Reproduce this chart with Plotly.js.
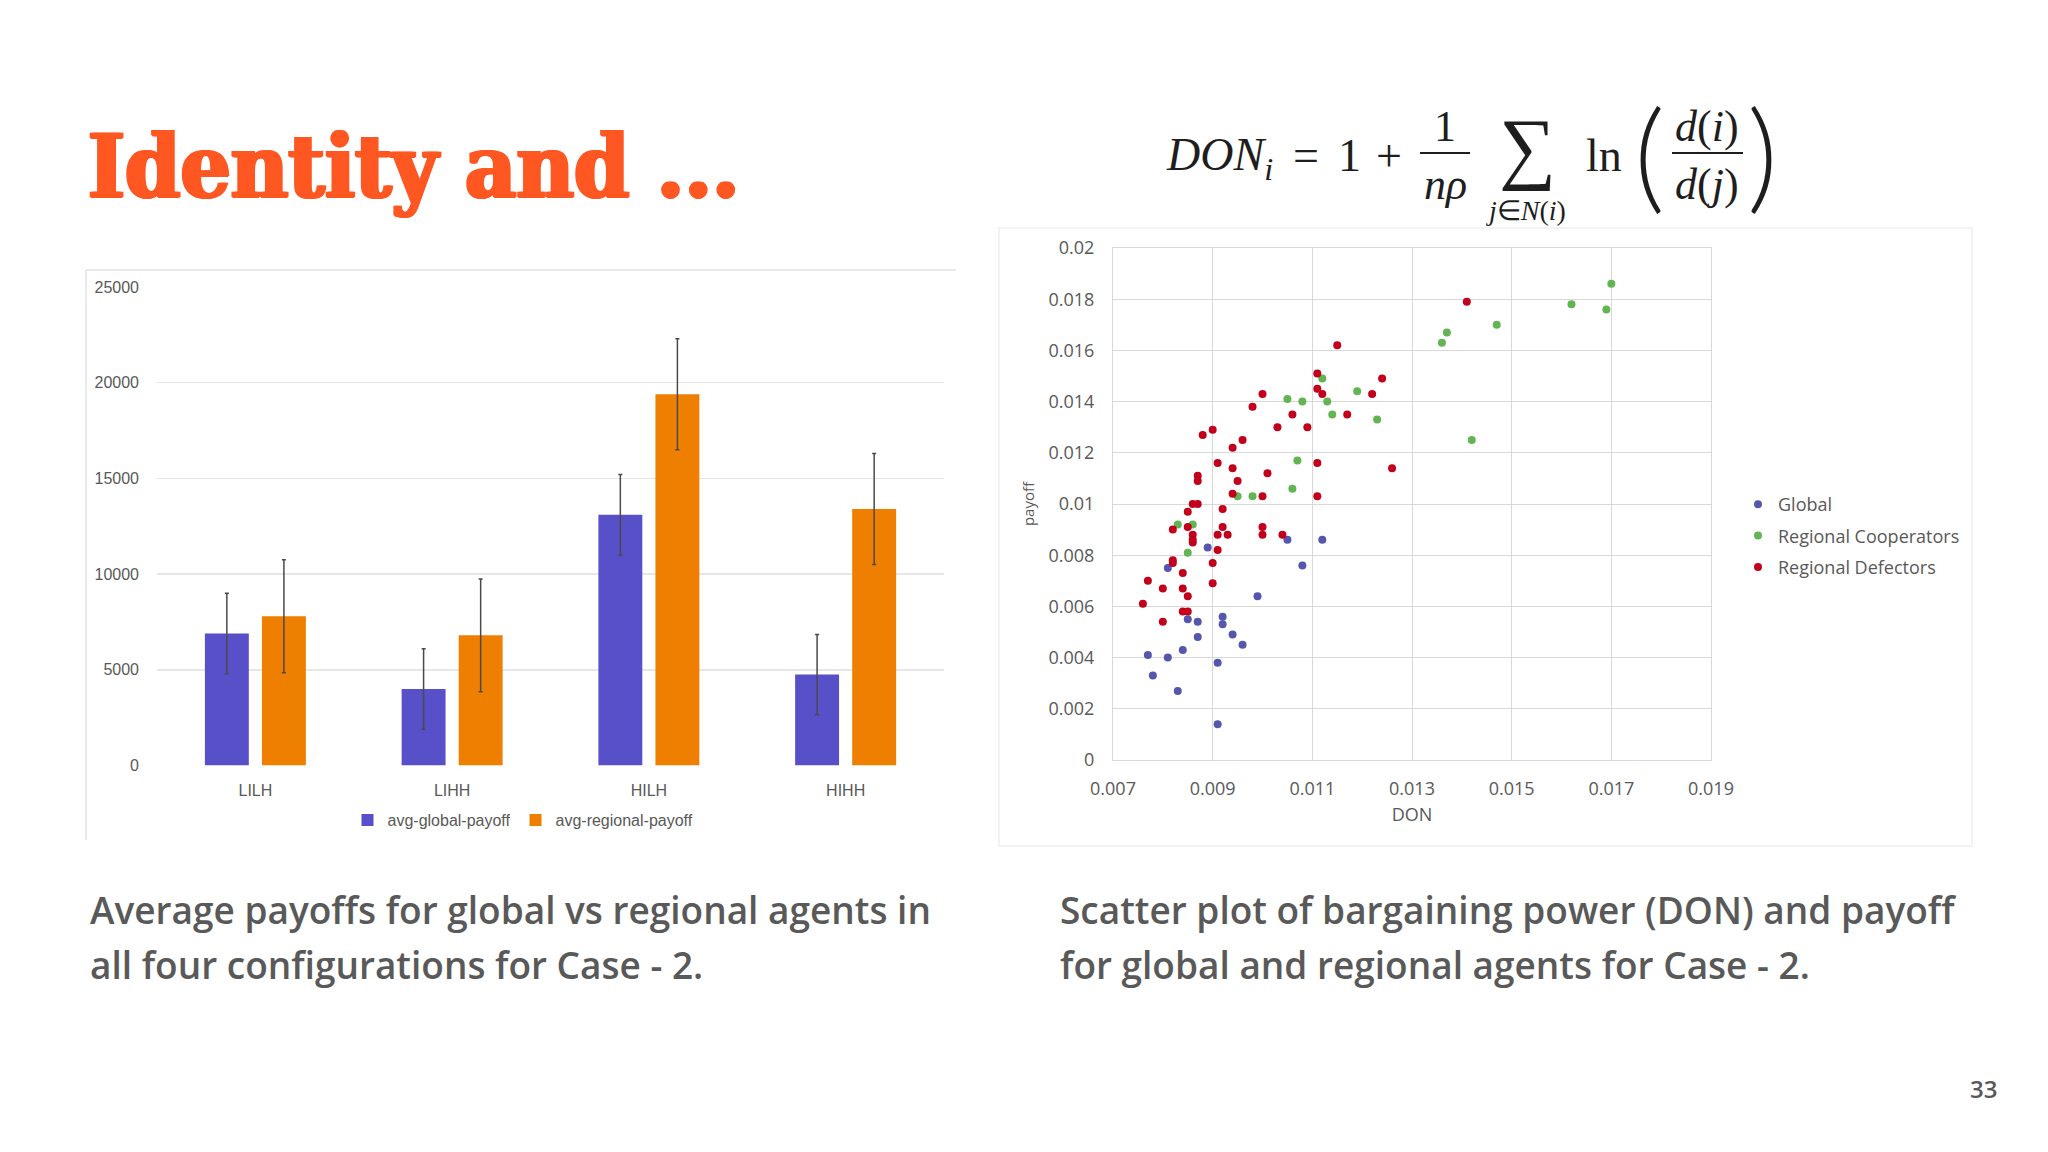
<!DOCTYPE html>
<html>
<head>
<meta charset="utf-8">
<script src="https://cdn.plot.ly/plotly-3.0.1.min.js"></script>
<style>html,body{margin:0;padding:0;background:#fff;}#chart{width:2048px;height:1152px;}</style>
</head>
<body>
<div id="chart"></div>
<script>
// ---------- Bar chart data ----------
const categories = ['LILH', 'LIHH', 'HILH', 'HIHH'];
const globalPayoff = [6900, 4000, 13100, 4750];
const globalErr = [2100, 2100, 2100, 2100];
const regionalPayoff = [7800, 6800, 19400, 13400];
const regionalErr = [2950, 2950, 2900, 2900];
const barNames = ['avg-global-payoff', 'avg-regional-payoff'];

// ---------- Scatter data (DON, payoff) ----------
const globalDon = [0.0089, 0.0105, 0.0112, 0.0108, 0.0081, 0.0099, 0.0085, 0.0087, 0.0092, 0.0092, 0.0094, 0.0087, 0.0096, 0.0084, 0.0077, 0.0081, 0.0091, 0.0078, 0.0083, 0.0091];
const globalPay = [0.0083, 0.0086, 0.0086, 0.0076, 0.0075, 0.0064, 0.0055, 0.0054, 0.0056, 0.0053, 0.0049, 0.0048, 0.0045, 0.0043, 0.0041, 0.0040, 0.0038, 0.0033, 0.0027, 0.0014];

const coopDon = [0.0170, 0.0162, 0.0169, 0.0147, 0.0137, 0.0136, 0.0142, 0.0112, 0.0119, 0.0105, 0.0108, 0.0113, 0.0114, 0.0123, 0.0107, 0.0106, 0.0095, 0.0098, 0.0083, 0.0086, 0.0085];
const coopPay = [0.0186, 0.0178, 0.0176, 0.0170, 0.0167, 0.0163, 0.0125, 0.0149, 0.0144, 0.0141, 0.0140, 0.0140, 0.0135, 0.0133, 0.0117, 0.0106, 0.0103, 0.0103, 0.0092, 0.0092, 0.0081];

const defDon = [0.0141, 0.0115, 0.0111, 0.0124, 0.0111, 0.0112, 0.0122, 0.0100, 0.0098, 0.0106, 0.0117, 0.0103, 0.0109, 0.0090, 0.0088, 0.0096, 0.0094, 0.0091, 0.0094, 0.0111, 0.0126, 0.0101, 0.0087, 0.0087, 0.0095, 0.0094, 0.0100, 0.0111, 0.0086, 0.0087, 0.0092, 0.0085, 0.0082, 0.0085, 0.0086, 0.0086, 0.0086, 0.0092, 0.0091, 0.0093, 0.0100, 0.0100, 0.0104, 0.0091, 0.0090, 0.0082, 0.0082, 0.0084, 0.0077, 0.0090, 0.0080, 0.0084, 0.0085, 0.0076, 0.0084, 0.0085, 0.0080];
const defPay = [0.0179, 0.0162, 0.0151, 0.0149, 0.0145, 0.0143, 0.0143, 0.0143, 0.0138, 0.0135, 0.0135, 0.0130, 0.0130, 0.0129, 0.0127, 0.0125, 0.0122, 0.0116, 0.0114, 0.0116, 0.0114, 0.0112, 0.0111, 0.0109, 0.0109, 0.0104, 0.0103, 0.0103, 0.0100, 0.0100, 0.0098, 0.0097, 0.0090, 0.0091, 0.0088, 0.0086, 0.0085, 0.0091, 0.0088, 0.0088, 0.0091, 0.0088, 0.0088, 0.0082, 0.0077, 0.0078, 0.0077, 0.0073, 0.0070, 0.0069, 0.0067, 0.0067, 0.0064, 0.0061, 0.0058, 0.0058, 0.0054];
const scatterNames = ['Global', 'Regional Cooperators', 'Regional Defectors'];

// ---------- Texts ----------
const slideTitle = 'Identity and ...';
const caption1 = ['Average payoffs for global vs regional agents in', 'all four configurations for Case - 2.'];
const caption2 = ['Scatter plot of bargaining power (DON) and payoff', 'for global and regional agents for Case - 2.'];
const pageNumber = '33';

// ---------- helpers (pixel -> paper) ----------
const W = 2048, H = 1152;
const X = p => p / W;
const Y = p => 1 - p / H;

const gray = '#595959';
const chartFont = 'Liberation Sans, Arial, sans-serif';
const scatFont = 'Open Sans, Noto Sans, sans-serif';
const serif = 'Liberation Serif, Times New Roman, serif';

const traces = [
  {
    type: 'bar', name: barNames[0], x: categories, y: globalPayoff,
    marker: {color: '#5850C8'},
    error_y: {type: 'data', array: globalErr, visible: true, color: '#4a4a4a', thickness: 1.5, width: 2},
    xaxis: 'x', yaxis: 'y', legend: 'legend', hoverinfo: 'skip'
  },
  {
    type: 'bar', name: barNames[1], x: categories, y: regionalPayoff,
    marker: {color: '#EE7F00'},
    error_y: {type: 'data', array: regionalErr, visible: true, color: '#4a4a4a', thickness: 1.5, width: 2},
    xaxis: 'x', yaxis: 'y', legend: 'legend', hoverinfo: 'skip'
  },
  {
    type: 'scatter', mode: 'markers', name: scatterNames[0], x: globalDon, y: globalPay,
    marker: {color: '#5556AD', size: 8}, xaxis: 'x2', yaxis: 'y2', legend: 'legend2', legendgroup: 'g1'
  },
  {
    type: 'scatter', mode: 'markers', name: scatterNames[1], x: coopDon, y: coopPay,
    marker: {color: '#62B552', size: 8}, xaxis: 'x2', yaxis: 'y2', legend: 'legend2', legendgroup: 'g2'
  },
  {
    type: 'scatter', mode: 'markers', name: scatterNames[2], x: defDon, y: defPay,
    marker: {color: '#C3001C', size: 8}, xaxis: 'x2', yaxis: 'y2', legend: 'legend2', legendgroup: 'g3'
  }
];

const ann = [];
function txt(t, x, y, opts) {
  ann.push(Object.assign({
    text: t, xref: 'paper', yref: 'paper', x: X(x), y: Y(y), showarrow: false,
    xanchor: 'left', yanchor: 'middle'
  }, opts));
}

// Title (heavy slab look: bold serif thickened with a same-colour shadow)
const tcol = '#FF5722';
txt(slideTitle, 86, 166, {font: {family: 'DejaVu Serif Condensed, DejaVu Serif, serif', size: 88, color: tcol, weight: 'bold',
  shadow: '2px 0 0 ' + tcol + ', -2px 0 0 ' + tcol + ', 0 1px 0 ' + tcol + ', 1px 1px 0 ' + tcol + ', -1px 1px 0 ' + tcol}});

// Formula
const fcol = '#1e1e1e';
const fF = s => ({family: serif, size: s, color: fcol});
txt('<i>DON</i><sub><i>i</i></sub>', 1164, 158, {font: fF(46)});
txt('=', 1306, 156, {xanchor: 'center', font: fF(46)});
txt('1', 1349, 156, {xanchor: 'center', font: fF(46)});
txt('+', 1389, 156, {xanchor: 'center', font: fF(46)});
txt('1', 1445, 126, {xanchor: 'center', font: fF(44)});
txt('<i>nρ</i>', 1445, 184, {xanchor: 'center', font: fF(44)});
// summation sign with its index set below, as one text block
txt('<span style="font-size:80px">∑</span><br><span style="font-size:28px"><i>j</i>∈<i>N</i>(<i>i</i>)</span>', 1526, 164,
    {xanchor: 'center', align: 'center', font: fF(35)});
txt('ln', 1604, 156, {xanchor: 'center', font: fF(46)});
txt('(', 1649, 152, {xanchor: 'center', font: {family: 'Lato, sans-serif', size: 120, color: fcol, weight: 300}});
txt(')', 1762, 152, {xanchor: 'center', font: {family: 'Lato, sans-serif', size: 120, color: fcol, weight: 300}});
txt('<i>d</i>(<i>i</i>)', 1707, 126, {xanchor: 'center', font: fF(44)});
txt('<i>d</i>(<i>j</i>)', 1707, 184, {xanchor: 'center', font: fF(44)});

// Captions
const capFont = {family: 'Open Sans, Lato, sans-serif', size: 37, color: gray, weight: 600};
txt(caption1[0], 88, 909, {font: capFont});
txt(caption1[1], 88, 964, {font: capFont});
txt(caption2[0], 1058, 909, {font: capFont});
txt(caption2[1], 1058, 964, {font: capFont});

// Page number
txt(pageNumber, 1983, 1088, {xanchor: 'center', font: {family: 'Open Sans, sans-serif', size: 24, color: gray, weight: 600}});

const shapes = [
  // fraction bars
  {type: 'line', xref: 'paper', yref: 'paper', x0: X(1420), x1: X(1470), y0: Y(153), y1: Y(153), line: {color: fcol, width: 2}},
  {type: 'line', xref: 'paper', yref: 'paper', x0: X(1672), x1: X(1743), y0: Y(153), y1: Y(153), line: {color: fcol, width: 2}},
  // bar chart image frame (top & left)
  {type: 'line', xref: 'paper', yref: 'paper', x0: X(86), x1: X(956), y0: Y(270), y1: Y(270), line: {color: '#e3e3e3', width: 1.5}},
  {type: 'line', xref: 'paper', yref: 'paper', x0: X(86), x1: X(86), y0: Y(270), y1: Y(840), line: {color: '#e3e3e3', width: 1.5}},
  // scatter image frame
  {type: 'rect', xref: 'paper', yref: 'paper', x0: X(999), x1: X(1972), y0: Y(846), y1: Y(228), line: {color: '#f0f0f0', width: 1.5}}
];

const layout = {
  width: W, height: H,
  margin: {l: 0, r: 0, t: 0, b: 0},
  paper_bgcolor: '#ffffff', plot_bgcolor: 'rgba(0,0,0,0)',
  showlegend: true,
  barmode: 'group', bargap: 0.42, bargroupgap: 0.23,
  xaxis: {
    domain: [X(157), X(944)], anchor: 'y', type: 'category',
    tickfont: {family: chartFont, size: 16, color: gray},
    showgrid: false, zeroline: false, showline: false, ticks: '', ticklabelstandoff: 13
  },
  yaxis: {
    domain: [Y(765.5), Y(287)], anchor: 'x', range: [0, 25000], dtick: 5000, tickformat: 'd',
    tickfont: {family: chartFont, size: 16, color: gray},
    gridcolor: '#e6e6e6', gridwidth: 1.5, zeroline: false, showline: false, ticks: '',
    ticklabelstandoff: 17
  },
  xaxis2: {
    domain: [X(1113), X(1711)], anchor: 'y2', range: [0.007, 0.019], tick0: 0.007, dtick: 0.002,
    tickfont: {family: scatFont, size: 18, color: gray},
    gridcolor: '#d8d8d8', gridwidth: 1, zeroline: false,
    showline: true, mirror: true, linecolor: '#d8d8d8', linewidth: 1, ticks: '',
    ticklabelstandoff: 12,
    title: {text: 'DON', font: {family: scatFont, size: 18, color: gray}, standoff: 9}
  },
  yaxis2: {
    domain: [Y(760), Y(248)], anchor: 'x2', range: [0, 0.02], dtick: 0.002,
    tickfont: {family: scatFont, size: 18, color: gray},
    gridcolor: '#d8d8d8', gridwidth: 1, zeroline: false,
    showline: true, mirror: true, linecolor: '#d8d8d8', linewidth: 1, ticks: '',
    ticklabelstandoff: 14,
    title: {text: 'payoff', font: {family: scatFont, size: 15, color: gray}, standoff: 10}
  },
  legend: {
    orientation: 'h', x: X(523), xanchor: 'center', y: Y(820), yanchor: 'middle',
    font: {family: chartFont, size: 16, color: gray}, bgcolor: 'rgba(0,0,0,0)',
    itemwidth: 30
  },
  legend2: {
    orientation: 'v', x: X(1738), xanchor: 'left', y: Y(486), yanchor: 'top',
    font: {family: scatFont, size: 18, color: gray}, bgcolor: 'rgba(0,0,0,0)',
    traceorder: 'grouped', tracegroupgap: 5, itemwidth: 30
  },
  annotations: ann,
  shapes: shapes
};

Plotly.newPlot('chart', traces, layout, {staticPlot: true, displayModeBar: false});
</script>
</body>
</html>
